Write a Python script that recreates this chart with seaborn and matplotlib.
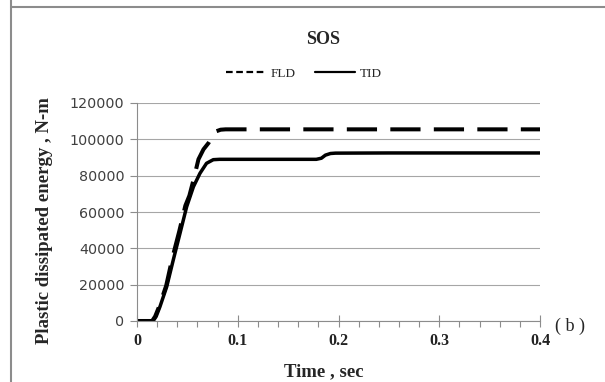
import matplotlib.pyplot as plt
from matplotlib.lines import Line2D
from matplotlib.ticker import MultipleLocator
import seaborn as sns

sns.set_style("white")

# data
series_names = ["FLD", "TID"]
time_fld = [0, 0.015, 0.018, 0.022, 0.029, 0.035, 0.042, 0.048, 0.052, 0.056,
            0.061, 0.066, 0.071, 0.075, 0.079, 0.083, 0.088, 0.10, 0.20, 0.30, 0.40]
energy_fld = [0, 0, 2500, 8000, 19500, 34500, 49500, 63500, 69000, 77500,
              89000, 94500, 98000, 102000, 104500, 105300, 105500, 105500,
              105500, 105500, 105500]
time_tid = [0, 0.016, 0.019, 0.0228, 0.0295, 0.036, 0.0427, 0.0493, 0.056,
            0.0625, 0.069, 0.0757, 0.082, 0.10, 0.15, 0.178, 0.183, 0.187,
            0.192, 0.197, 0.25, 0.30, 0.35, 0.40]
energy_tid = [0, 0, 2500, 7900, 18900, 33600, 48300, 62900, 73900, 81300,
              86800, 88800, 89000, 89000, 89000, 89000, 89600, 91300, 92200,
              92400, 92500, 92500, 92500, 92500]
x_ticks = [0, 0.1, 0.2, 0.3, 0.4]
x_tick_labels = ["0", "0.1", "0.2", "0.3", "0.4"]
y_ticks = [0, 20000, 40000, 60000, 80000, 100000, 120000]

serif = "Liberation Serif"
grey = "#8c8c8c"

fig = plt.figure(figsize=(6.05, 3.82), dpi=100)
ax = fig.add_axes([137 / 605, 1 - 321 / 382, 403 / 605, 218 / 382])

sns.lineplot(x=time_fld, y=energy_fld, ax=ax, color="black", linewidth=2.9,
             linestyle=(0, (7.5, 3.3)), sort=False, estimator=None)
sns.lineplot(x=time_tid, y=energy_tid, ax=ax, color="black", linewidth=2.5,
             sort=False, estimator=None)

ax.set_xlim(0, 0.4)
ax.set_ylim(0, 120000)
ax.set_xticks(x_ticks)
ax.set_xticklabels(x_tick_labels, fontfamily=serif, fontweight="bold",
                   fontsize=11.5, color="#222222")
ax.xaxis.set_minor_locator(MultipleLocator(0.02))
ax.set_yticks(y_ticks)
ax.set_yticklabels([f"{v:d}" for v in y_ticks], fontfamily="DejaVu Sans",
                   fontsize=10.3, color="#404040")
ax.tick_params(axis="x", which="major", direction="inout", length=9, width=0.8,
               color=grey, pad=4, bottom=True)
ax.tick_params(axis="x", which="minor", direction="out", length=4, width=0.8,
               color=grey, bottom=True)
ax.tick_params(axis="y", which="major", direction="out", length=5, width=0.8,
               color=grey, pad=4, left=True)
ax.grid(axis="y", color="#a6a6a6", linewidth=0.8)
ax.set_axisbelow(True)
for side in ["top", "right"]:
    ax.spines[side].set_visible(False)
for side in ["left", "bottom"]:
    ax.spines[side].set_color(grey)
    ax.spines[side].set_linewidth(0.8)
ax.set_xlabel("")
ax.set_ylabel("")

fig.text(323 / 605, 1 - 40 / 382, "SOS", ha="center", va="center",
         fontfamily=serif, fontweight="bold", fontsize=13)
fig.text(324 / 605, 1 - 372 / 382, "Time , sec", ha="center", va="center",
         fontfamily=serif, fontweight="bold", fontsize=13.5)
fig.text(45 / 605, 1 - 221 / 382, "Plastic dissipated energy , N-m",
         ha="center", va="center", rotation=90, fontfamily=serif,
         fontweight="bold", fontsize=13.5)
fig.text(570 / 605, 1 - 326 / 382, "( b )", ha="center", va="center",
         fontfamily=serif, fontsize=13)

handles = [Line2D([], [], color="black", linewidth=1.6, linestyle=(0, (3, 1.6))),
           Line2D([], [], color="black", linewidth=1.6)]
fig.legend(handles, series_names, loc="center", ncol=2, frameon=False,
           bbox_to_anchor=(304 / 605, 1 - 74 / 382), handlelength=3.0,
           columnspacing=1.5, handletextpad=0.4,
           prop={"family": serif, "size": 9.5})

# outer frame of the original figure
fig.add_artist(Line2D([11 / 605, 11 / 605], [0, 1], transform=fig.transFigure,
                      color=grey, linewidth=1.5))
fig.add_artist(Line2D([11 / 605, 1], [1 - 6.5 / 382, 1 - 6.5 / 382],
                      transform=fig.transFigure, color=grey, linewidth=1.5))

fig.savefig("out.png", dpi=100)
